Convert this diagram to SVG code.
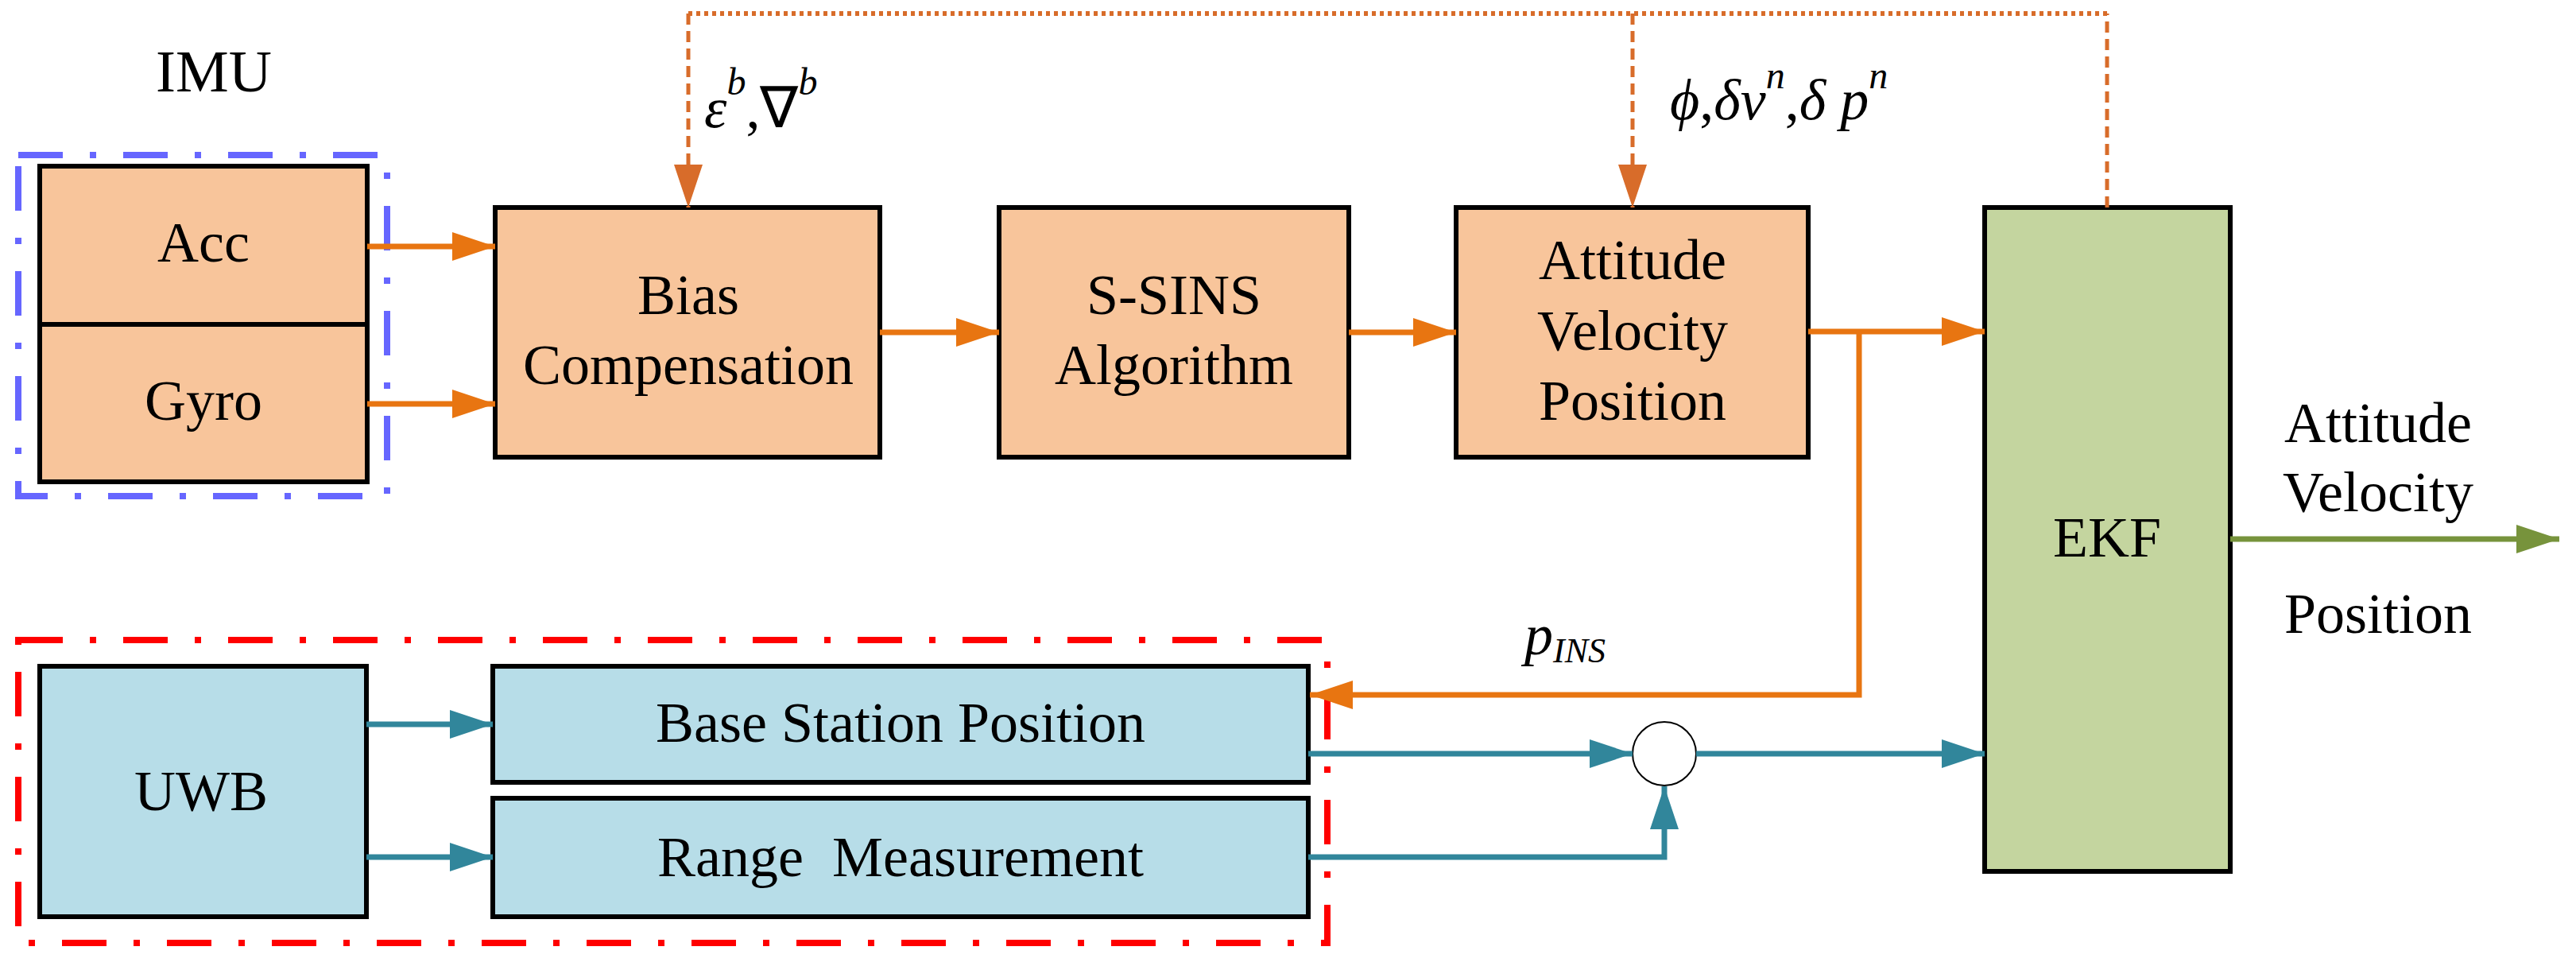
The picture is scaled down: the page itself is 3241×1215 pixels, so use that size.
<svg xmlns="http://www.w3.org/2000/svg" width="3241" height="1215" viewBox="0 0 3241 1215">
<style>
text{font-family:"Liberation Serif","Times New Roman",serif;font-size:72px;fill:#000;text-anchor:middle}
.m{font-style:italic;text-anchor:start}
.box{stroke:#000;stroke-width:6}
.or{fill:#F8C59B}.bl{fill:#B7DDE8}.gr{fill:#C4D59F}
.lo{stroke:#E87511;stroke-width:7;fill:none}
.lt{stroke:#31869B;stroke-width:7;fill:none}
.lg{stroke:#77933C;stroke-width:7;fill:none}
.fb{stroke:#D86C2A;stroke-width:5;fill:none;stroke-dasharray:14 8}
.fd{stroke:#D86C2A;stroke-width:6;fill:none;stroke-dasharray:5 5}
</style>
<defs>
<marker id="ao" markerUnits="userSpaceOnUse" markerWidth="56" markerHeight="38" refX="54" refY="18" orient="auto"><path d="M0,0L54,18L0,36z" fill="#E87511"/></marker>
<marker id="af" markerUnits="userSpaceOnUse" markerWidth="56" markerHeight="38" refX="54" refY="18" orient="auto"><path d="M0,0L54,18L0,36z" fill="#D86C2A"/></marker>
<marker id="at" markerUnits="userSpaceOnUse" markerWidth="56" markerHeight="38" refX="54" refY="18" orient="auto"><path d="M0,0L54,18L0,36z" fill="#31869B"/></marker>
<marker id="ag" markerUnits="userSpaceOnUse" markerWidth="56" markerHeight="38" refX="54" refY="18" orient="auto"><path d="M0,0L54,18L0,36z" fill="#77933C"/></marker>
</defs>
<g id="imu-group">
<rect x="23" y="195" width="464" height="429" fill="none" stroke="#6666FF" stroke-width="8" stroke-dasharray="56 34 8 34"/>
<text x="269" y="115" style="font-size:75px">IMU</text>
</g>
<g id="acc"><rect class="box or" x="50" y="209" width="412" height="199"/><text x="256" y="329">Acc</text></g>
<g id="gyro"><rect class="box or" x="50" y="408" width="412" height="198"/><text x="256" y="528">Gyro</text></g>
<g id="bias"><rect class="box or" x="623" y="261" width="484" height="314"/><text x="866" y="395">Bias</text><text x="866" y="483">Compensation</text></g>
<g id="ssins"><rect class="box or" x="1257" y="261" width="440" height="314"/><text x="1477" y="395">S-SINS</text><text x="1477" y="483">Algorithm</text></g>
<g id="avp"><rect class="box or" x="1832" y="261" width="443" height="314"/><text x="2054" y="351">Attitude</text><text x="2054" y="440">Velocity</text><text x="2054" y="528">Position</text></g>
<g id="ekf"><rect class="box gr" x="2497" y="261" width="309" height="835"/><text x="2651" y="700">EKF</text></g>
<g id="uwb-group"><rect x="23" y="805" width="1647" height="381" fill="none" stroke="#FF0000" stroke-width="8" stroke-dasharray="56 34 8 34"/></g>
<g id="uwb"><rect class="box bl" x="50" y="838" width="411" height="315"/><text x="253" y="1019">UWB</text></g>
<g id="bsp"><rect class="box bl" x="620" y="838" width="1026" height="146"/><text x="1133" y="933">Base Station Position</text></g>
<g id="rm"><rect class="box bl" x="620" y="1004" width="1026" height="149"/><text x="1133" y="1102" xml:space="preserve">Range  Measurement</text></g>
<g id="sum"><circle cx="2094" cy="948" r="40" fill="#fff" stroke="#000" stroke-width="2"/></g>
<g id="outputs"><text x="2992" y="556">Attitude</text><text x="2992" y="643">Velocity</text><text x="2992" y="796">Position</text></g>
<g id="labels">
<text class="m" x="886" y="160">ε<tspan dy="-41" style="font-size:48px">b</tspan><tspan dy="41" style="font-style:normal">,∇</tspan><tspan dy="-41" style="font-size:48px">b</tspan></text>
<text class="m" x="2101" y="150">ϕ<tspan style="font-style:normal">,</tspan>δv<tspan dy="-39" style="font-size:48px">n</tspan><tspan dy="39" style="font-style:normal">,</tspan>δ p<tspan dy="-39" style="font-size:48px">n</tspan></text>
<text class="m" x="1918" y="823">p<tspan dy="10" style="font-size:44px">INS</tspan></text>
</g>
<g id="connectors">
<path class="lo" d="M462,310H623" marker-end="url(#ao)"/>
<path class="lo" d="M462,508H623" marker-end="url(#ao)"/>
<path class="lo" d="M1107,418H1257" marker-end="url(#ao)"/>
<path class="lo" d="M1697,418H1832" marker-end="url(#ao)"/>
<path class="lo" d="M2275,417H2497" marker-end="url(#ao)"/>
<path class="lo" d="M2339,418V874H1648" stroke-width="5" marker-end="url(#ao)"/>
<path class="fd" d="M866,17H2651"/>
<path class="fb" d="M866,17V261" marker-end="url(#af)"/>
<path class="fb" d="M2054,17V261" marker-end="url(#af)"/>
<path class="fb" d="M2651,261V17"/>
<path class="lt" d="M461,911H620" marker-end="url(#at)"/>
<path class="lt" d="M461,1078H620" marker-end="url(#at)"/>
<path class="lt" d="M1646,948H2054" marker-end="url(#at)"/>
<path class="lt" d="M2134,948H2497" marker-end="url(#at)"/>
<path class="lt" d="M1646,1078H2094V989" stroke-width="5" marker-end="url(#at)"/>
<path class="lg" d="M2806,678H3220" marker-end="url(#ag)"/>
</g>
</svg>
